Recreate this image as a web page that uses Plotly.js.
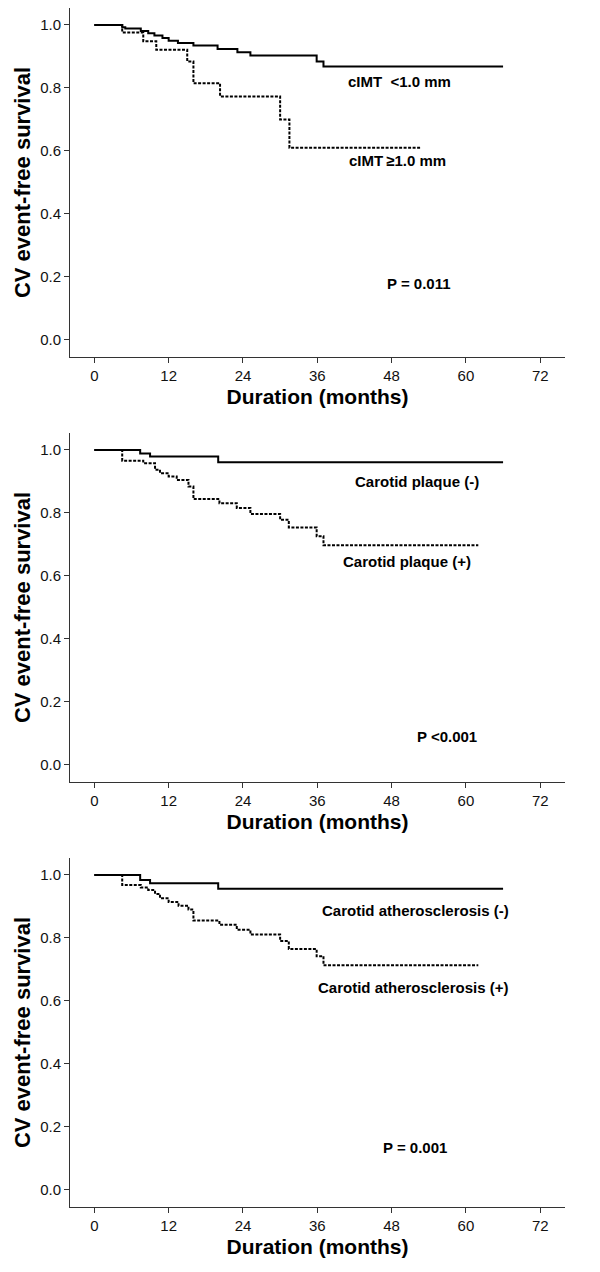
<!DOCTYPE html>
<html>
<head>
<meta charset="utf-8">
<script src="https://cdn.plot.ly/plotly-3.0.1.min.js"></script>
<style>html,body{margin:0;padding:0;background:#fff;}#chart{width:600px;height:1272px;}</style>
</head>
<body>
<div id="chart"></div>
<script>
// Panel 1: cIMT
const p1LowT = [0, 4.5, 5.0, 7.5, 8.7, 9.7, 11.0, 12.0, 13.5, 16.0, 19.9, 23.1, 25.2, 35.9, 37.0, 66.0];
const p1LowS = [1.0, 0.993, 0.989, 0.981, 0.974, 0.967, 0.959, 0.950, 0.943, 0.935, 0.924, 0.913, 0.903, 0.884, 0.868, 0.868];
const p1HighT = [0, 4.5, 7.9, 10.0, 15.0, 16.0, 20.3, 30.0, 31.5, 52.8];
const p1HighS = [1.0, 0.976, 0.948, 0.921, 0.884, 0.815, 0.773, 0.700, 0.610, 0.610];

// Panel 2: carotid plaque
const p2NegT = [0, 7.4, 9.0, 20.0, 66.0];
const p2NegS = [1.0, 0.989, 0.979, 0.961, 0.961];
const p2PosT = [0, 4.5, 7.9, 9.8, 10.6, 12.0, 13.3, 15.2, 16.0, 20.2, 23.0, 25.2, 30.0, 31.4, 35.9, 37.0, 62.0];
const p2PosS = [1.0, 0.966, 0.958, 0.937, 0.926, 0.916, 0.905, 0.884, 0.844, 0.831, 0.816, 0.797, 0.778, 0.754, 0.726, 0.697, 0.697];

// Panel 3: carotid atherosclerosis
const p3NegT = [0, 7.4, 9.0, 20.0, 66.0];
const p3NegS = [1.0, 0.984, 0.974, 0.956, 0.956];
const p3PosT = [0, 4.5, 7.5, 8.7, 9.8, 10.6, 12.0, 13.6, 15.2, 16.0, 20.2, 23.0, 25.2, 30.0, 31.4, 35.9, 37.0, 62.0];
const p3PosS = [1.0, 0.968, 0.960, 0.952, 0.940, 0.926, 0.914, 0.902, 0.890, 0.855, 0.842, 0.826, 0.811, 0.790, 0.765, 0.742, 0.713, 0.713];

const xTicks = [0, 12, 24, 36, 48, 60, 72];
const yTicks = [0.0, 0.2, 0.4, 0.6, 0.8, 1.0];
const yTickText = ['0.0', '0.2', '0.4', '0.6', '0.8', '1.0'];
const xTitle = 'Duration (months)';
const yTitle = 'CV event-free survival';

const labels = [
  {text: 'cIMT\u00a0\u00a0<1.0 mm', x: 49.2, y: 0.82, ax: 1},
  {text: 'cIMT\u2009≥1.0 mm', x: 48.9, y: 0.571, ax: 1},
  {text: 'P = 0.011', x: 52.5, y: 0.178, ax: 1},
  {text: 'Carotid plaque (-)', x: 52.1, y: 0.899, ax: 2},
  {text: 'Carotid plaque (+)', x: 50.5, y: 0.646, ax: 2},
  {text: 'P <0.001', x: 56.9, y: 0.089, ax: 2},
  {text: 'Carotid atherosclerosis (-)', x: 51.8, y: 0.887, ax: 3},
  {text: 'Carotid atherosclerosis (+)', x: 51.5, y: 0.641, ax: 3},
  {text: 'P = 0.001', x: 51.8, y: 0.133, ax: 3}
];

const FONT = 'Liberation Sans, Arial, sans-serif';
const solid = {color: '#000', width: 2, shape: 'hv'};
const dotted = {color: '#000', width: 2, shape: 'hv', dash: '3px,1.5px'};

function tr(x, y, line, n) {
  const s = n === 1 ? '' : String(n);
  return {x: x, y: y, type: 'scatter', mode: 'lines', line: line, xaxis: 'x' + s, yaxis: 'y' + s, showlegend: false, hoverinfo: 'skip'};
}

const data = [
  tr(p1LowT, p1LowS, solid, 1), tr(p1HighT, p1HighS, dotted, 1),
  tr(p2NegT, p2NegS, solid, 2), tr(p2PosT, p2PosS, dotted, 2),
  tr(p3NegT, p3NegS, solid, 3), tr(p3PosT, p3PosS, dotted, 3)
];

function xax(anchor) {
  return {
    domain: [70 / 600, 565 / 600], range: [-3.93, 76.0], anchor: anchor,
    tickmode: 'array', tickvals: xTicks, ticktext: xTicks.map(String),
    ticks: 'outside', ticklen: 5, tickwidth: 1, tickcolor: '#333',
    showline: true, linecolor: '#333', linewidth: 1, showgrid: false, zeroline: false,
    tickfont: {family: FONT, size: 15, color: '#111'},
    title: {text: xTitle, font: {family: FONT, size: 21, color: '#000', weight: 'bold'}, standoff: 6},
    automargin: false
  };
}
function yax(anchor, dom) {
  return {
    domain: dom, range: [-0.055, 1.054], anchor: anchor,
    tickmode: 'array', tickvals: yTicks, ticktext: yTickText,
    ticks: 'outside', ticklen: 5, tickwidth: 1, tickcolor: '#333',
    showline: true, linecolor: '#333', linewidth: 1, showgrid: false, zeroline: false,
    tickfont: {family: FONT, size: 15, color: '#111'},
    title: {text: yTitle, font: {family: FONT, size: 22, color: '#000', weight: 'bold'}, standoff: 3},
    automargin: false
  };
}

const H = 1272;
const layout = {
  width: 600, height: H,
  margin: {l: 0, r: 0, t: 0, b: 0},
  paper_bgcolor: '#fff', plot_bgcolor: '#fff',
  showlegend: false,
  xaxis: xax('y'), yaxis: yax('x', [(H - 357) / H, (H - 8) / H]),
  xaxis2: xax('y2'), yaxis2: yax('x2', [(H - 782) / H, (H - 433) / H]),
  xaxis3: xax('y3'), yaxis3: yax('x3', [(H - 1207) / H, (H - 858) / H]),
  annotations: labels.map(l => ({
    text: l.text, x: l.x, y: l.y,
    xref: 'x' + (l.ax === 1 ? '' : l.ax), yref: 'y' + (l.ax === 1 ? '' : l.ax),
    showarrow: false, xanchor: 'center', yanchor: 'middle',
    font: {family: FONT, size: 15, color: '#000', weight: 'bold'}
  }))
};

Plotly.newPlot('chart', data, layout, {displayModeBar: false, staticPlot: true});
</script>
</body>
</html>
